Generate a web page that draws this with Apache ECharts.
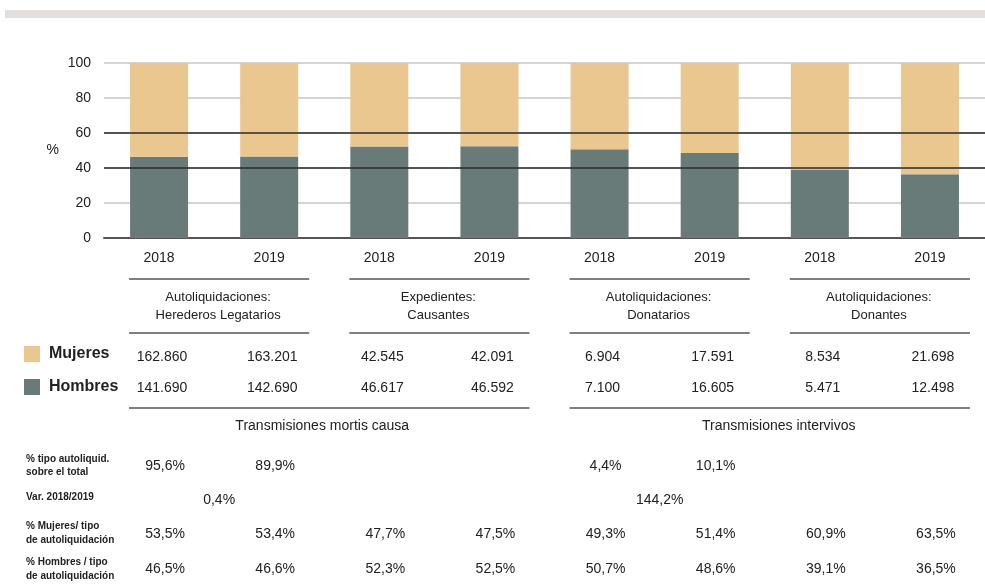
<!DOCTYPE html>
<html>
<head>
<meta charset="utf-8">
<script src="https://cdn.jsdelivr.net/npm/echarts@6/dist/echarts.min.js"></script>
<style>html,body{margin:0;padding:0;background:#fff;}#c{width:985px;height:584px;}</style>
</head>
<body>
<div id="c"></div>
<script>
const categories = ['2018','2019','2018','2019','2018','2019','2018','2019'];
const hombresPct = [46.5,46.6,52.3,52.5,50.7,48.6,39.1,36.5];
const mujeresPct = [53.5,53.4,47.7,47.5,49.3,51.4,60.9,63.5];
const mujeresN = ['162.860','163.201','42.545','42.091','6.904','17.591','8.534','21.698'];
const hombresN = ['141.690','142.690','46.617','46.592','7.100','16.605','5.471','12.498'];
const groupTitle1 = ['Autoliquidaciones:','Expedientes:','Autoliquidaciones:','Autoliquidaciones:'];
const groupTitle2 = ['Herederos Legatarios','Causantes','Donatarios','Donantes'];
const sections = ['Transmisiones mortis causa','Transmisiones intervivos'];
const pctTipo = ['95,6%','89,9%',null,null,'4,4%','10,1%',null,null];
const varRow = ['0,4%',null,'144,2%',null];
const rowLabels = [['% tipo autoliquid.','sobre el total'],['Var. 2018/2019'],['% Mujeres/ tipo','de autoliquidación'],['% Hombres / tipo','de autoliquidación']];
const refLines = [40,60];

const C_M = '#EAC78F', C_H = '#687B78';
const FONT = 'Liberation Sans, Arial, sans-serif';
const fmt = v => v.toFixed(1).replace('.', ',') + '%';

const chart = echarts.init(document.getElementById('c'));
chart.setOption({
  animation: false,
  grid: {left: 104, right: 0, top: 63, bottom: 346},
  legend: {
    data: ['Mujeres','Hombres'], orient: 'vertical', left: 24, top: 346, padding: 0,
    itemWidth: 16, itemHeight: 16, itemGap: 17, icon: 'rect',
    textStyle: {fontFamily: FONT, fontSize: 16, fontWeight: 'bold', color: '#222', padding: [2,0,0,4]}
  },
  xAxis: {
    type: 'category', data: categories,
    axisLine: {lineStyle: {color: '#555', width: 2}},
    axisTick: {show: false},
    axisLabel: {fontFamily: FONT, fontSize: 14, color: '#222', margin: 13}
  },
  yAxis: {
    type: 'value', min: 0, max: 100, interval: 20,
    name: '%', nameLocation: 'middle', nameRotate: 0, nameGap: 45,
    nameTextStyle: {fontFamily: FONT, fontSize: 14, color: '#222', padding: [0,0,6,0]},
    axisLine: {show: false}, axisTick: {show: false},
    axisLabel: {fontFamily: FONT, fontSize: 14, color: '#222', margin: 13},
    splitLine: {lineStyle: {color: '#c6c6c6', width: 1.5}}
  },
  series: [
    {name: 'Hombres', type: 'bar', stack: 't', data: hombresPct, barWidth: 58, itemStyle: {color: C_H},
     markLine: {silent: true, symbol: 'none', label: {show: false},
       lineStyle: {color: '#2a2a2a', width: 1.5, type: 'solid'},
       data: refLines.map(v => ({yAxis: v}))}},
    {name: 'Mujeres', type: 'bar', stack: 't', data: mujeresPct, barWidth: 58, itemStyle: {color: C_M}}
  ]
});

const px = i => chart.convertToPixel({xAxisIndex: 0}, i);
const g = [];
const txt = (x, y, s, opt) => g.push({type: 'text', x: x, y: y, style: Object.assign({text: s, fill: '#222', font: '14px ' + FONT, textAlign: 'center', textVerticalAlign: 'middle'}, opt || {})});
const hline = (x1, x2, y) => g.push({type: 'line', shape: {x1: x1, y1: y, x2: x2, y2: y}, style: {stroke: '#555', lineWidth: 1.5}});

g.push({type: 'rect', shape: {x: 5, y: 10, width: 980, height: 8}, style: {fill: '#e3dfdc'}});

for (let k = 0; k < 4; k++) {
  const a = px(2*k), b = px(2*k+1);
  hline(a - 30, b + 40, 279);
  hline(a - 30, b + 40, 333);
  const mid = (a + b) / 2 + 4;
  txt(mid, 297, groupTitle1[k], {font: '13px ' + FONT});
  txt(mid, 315, groupTitle2[k], {font: '13px ' + FONT});
  if (varRow[k]) txt((a + b) / 2 + 5, 500, varRow[k]);
}
hline(px(0) - 30, px(3) + 40, 408);
hline(px(4) - 30, px(7) + 40, 408);
txt((px(0) + px(3)) / 2 - 2, 426, sections[0]);
txt((px(4) + px(7)) / 2 + 14, 426, sections[1]);

for (let i = 0; i < categories.length; i++) {
  const x = px(i);
  txt(x + 3, 357, mujeresN[i]);
  txt(x + 3, 388, hombresN[i]);
  if (pctTipo[i]) txt(x + 6, 466, pctTipo[i]);
  txt(x + 6, 534, fmt(mujeresPct[i]));
  txt(x + 6, 569, fmt(hombresPct[i]));
}

const labelY = [[459,472],[497],[526,540],[562,576]];
rowLabels.forEach((lines, r) => lines.forEach((s, j) => txt(26, labelY[r][j], s, {font: 'bold 10px ' + FONT, textAlign: 'left'})));

chart.setOption({graphic: g});
</script>
</body>
</html>
